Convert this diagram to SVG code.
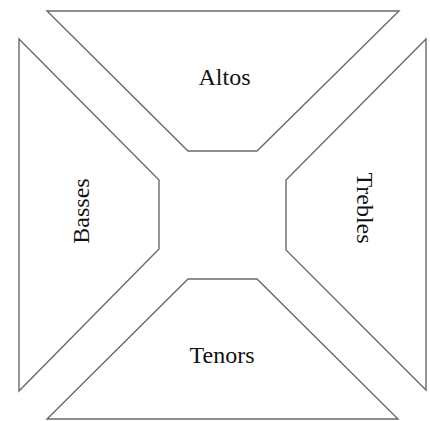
<svg xmlns="http://www.w3.org/2000/svg" width="430" height="421" viewBox="0 0 430 421">
<style>
.s{fill:#fff;stroke:#6a6a6a;stroke-width:1.4;stroke-linejoin:miter}
.t{font-family:"Liberation Serif","Times New Roman",serif;font-size:24px;fill:#111;text-anchor:middle}
</style>
<rect width="430" height="421" fill="#fff"/>
<g id="altos"><polygon class="s" points="47,11 399,11 257,151 188,151"/><text class="t" x="224.5" y="85">Altos</text></g>
<g id="basses"><polygon class="s" points="19,39 159,180 159,249 19,391"/><text class="t" transform="translate(89,211) rotate(-90)">Basses</text></g>
<g id="trebles"><polygon class="s" points="426,39 286,180 286,250 426,390"/><text class="t" transform="translate(357,208) rotate(90)">Trebles</text></g>
<g id="tenors"><polygon class="s" points="188,279 257,279 398,419 47,419"/><text class="t" x="222" y="363">Tenors</text></g>
<g id="connectors"></g>
</svg>
